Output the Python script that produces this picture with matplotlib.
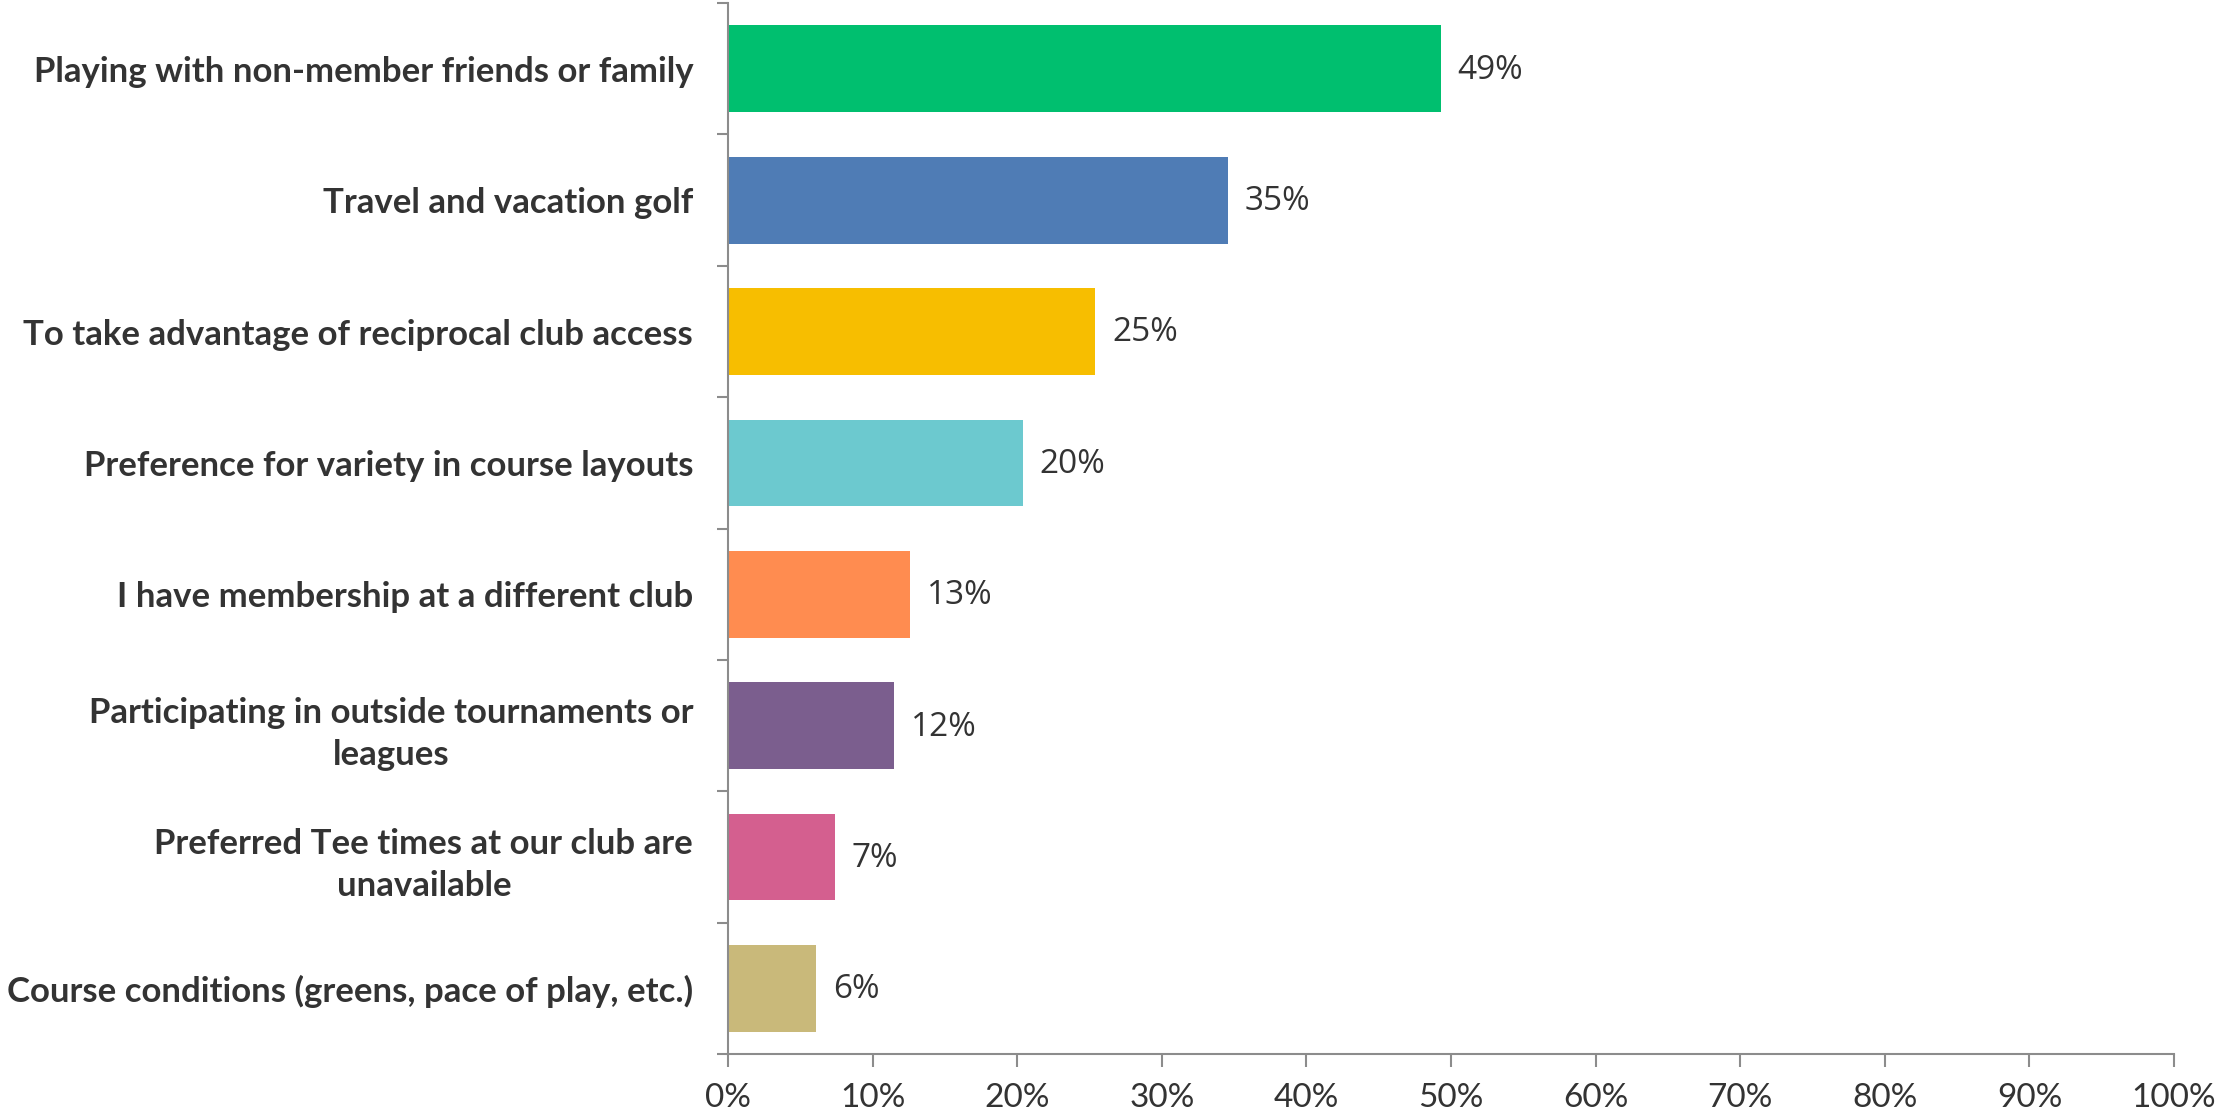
import numpy as np
import matplotlib.pyplot as plt
from matplotlib.ticker import FixedLocator, PercentFormatter

categories = [
    "Playing with non-member friends or family",
    "Travel and vacation golf",
    "To take advantage of reciprocal club access",
    "Preference for variety in course layouts",
    "I have membership at a different club",
    "Participating in outside tournaments or\nleagues",
    "Preferred Tee times at our club are\nunavailable",
    "Course conditions (greens, pace of play, etc.)",
]
shares = [49.3, 34.6, 25.4, 20.4, 12.6, 11.5, 7.4, 6.1]
colors = ["#00BF6F", "#4F7CB5", "#F7BE00", "#6CC9CF",
          "#FF8C50", "#7B5E8E", "#D45F8F", "#C9B97A"]

text_color = "#333333"
axis_color = "#8C8C8C"

fig = plt.figure(figsize=(22.18, 11.18), dpi=100)
ax = fig.add_axes([0.3282, 0.0572, 0.652, 0.940])

y = np.arange(len(categories))
bars = ax.barh(y, shares, height=0.66, color=colors)

# value labels just past the end of each bar
for bar, v in zip(bars, shares):
    ax.annotate(f"{v:.0f}%", (bar.get_width(), bar.get_y() + bar.get_height() / 2),
                xytext=(12, -1), textcoords="offset points", va="center", ha="left",
                fontsize=24, family="Open Sans", color=text_color)

ax.set_xlim(0, 100)
ax.set_ylim(len(categories) - 0.5, -0.5)

ax.xaxis.set_major_locator(FixedLocator(np.arange(0, 101, 10)))
ax.xaxis.set_major_formatter(PercentFormatter(decimals=0))

ax.set_yticks(y)
ax.set_yticklabels(categories, fontsize=25, family="Lato", fontweight="bold",
                   color=text_color, multialignment="center", linespacing=1.4)
# small ticks between categories on the left axis
ax.yaxis.set_minor_locator(FixedLocator(np.arange(-0.5, len(categories), 1)))

ax.tick_params(axis="y", which="major", length=0, pad=25)
ax.tick_params(axis="y", which="minor", length=8, width=1.5, color=axis_color, direction="out")
ax.tick_params(axis="x", length=9, width=1.5, color=axis_color, pad=12,
               labelsize=24, labelcolor=text_color)
for lbl in ax.get_xticklabels():
    lbl.set_family("Lato")

for side in ["top", "right"]:
    ax.spines[side].set_visible(False)
for side in ["left", "bottom"]:
    ax.spines[side].set_color(axis_color)
    ax.spines[side].set_linewidth(1.5)

fig.savefig("out.png", dpi=100)
